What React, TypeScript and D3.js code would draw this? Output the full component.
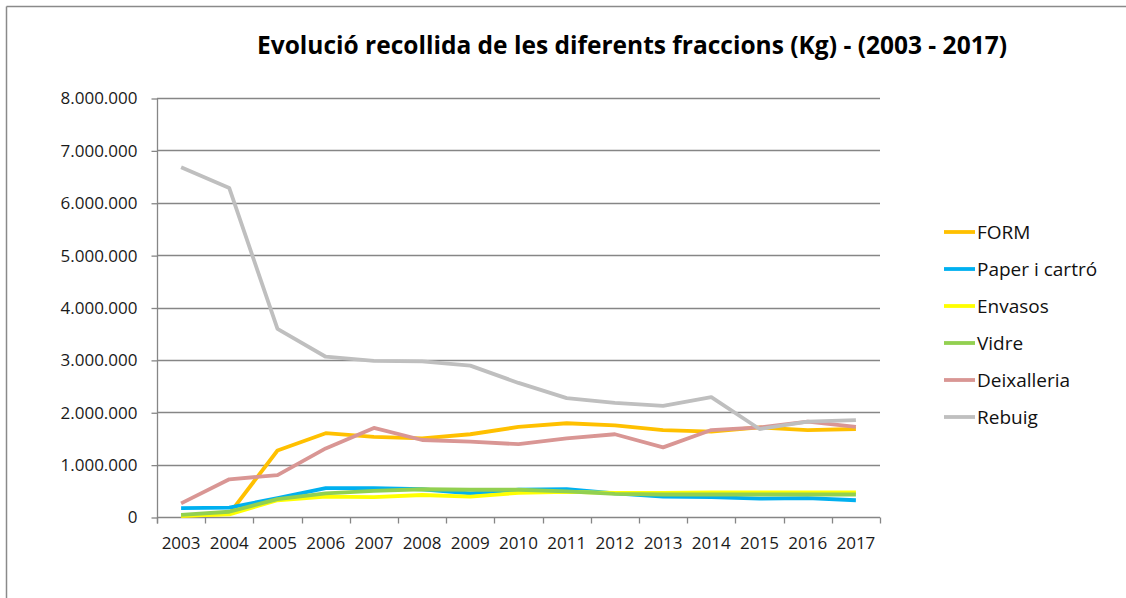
//@ts-nocheck
import React, { useEffect, useRef } from "react";
import * as d3 from "d3";

const years = ["2003", "2004", "2005", "2006", "2007", "2008", "2009", "2010", "2011", "2012", "2013", "2014", "2015", "2016", "2017"];

const form = [20000, 60000, 1270000, 1600000, 1530000, 1500000, 1580000, 1720000, 1790000, 1750000, 1660000, 1630000, 1710000, 1660000, 1680000];
const paper = [170000, 180000, 360000, 550000, 550000, 530000, 450000, 520000, 530000, 450000, 390000, 380000, 350000, 360000, 320000];
const envasos = [20000, 50000, 320000, 390000, 380000, 420000, 390000, 460000, 480000, 460000, 460000, 470000, 470000, 470000, 470000];
const vidre = [40000, 100000, 340000, 450000, 500000, 530000, 520000, 520000, 490000, 440000, 430000, 430000, 430000, 430000, 430000];
const deixalleria = [260000, 720000, 800000, 1310000, 1700000, 1470000, 1440000, 1390000, 1500000, 1580000, 1330000, 1660000, 1710000, 1820000, 1720000];
const rebuig = [6680000, 6280000, 3590000, 3060000, 2980000, 2970000, 2890000, 2560000, 2270000, 2180000, 2120000, 2290000, 1680000, 1820000, 1850000];

const seriesNames = ["FORM", "Paper i cartró", "Envasos", "Vidre", "Deixalleria", "Rebuig"];
const seriesValues = [form, paper, envasos, vidre, deixalleria, rebuig];
const colors = ["#FFC000", "#00B0F0", "#FFFF00", "#92D050", "#D99694", "#BFBFBF"];

const yTicks = [0, 1000000, 2000000, 3000000, 4000000, 5000000, 6000000, 7000000, 8000000];

const title = "Evolució recollida de les diferents fraccions (Kg) - (2003 - 2017)";

const W = 1126;
const H = 598;
const margins = { top: 98, right: 246, bottom: 81, left: 157 };
const font = "'Open Sans', sans-serif";

const App = () => {
  const svgRef = useRef<SVGSVGElement>(null);

  useEffect(() => {
    const svg = d3.select(svgRef.current);
    svg.selectAll("*").remove();

    const width = W - margins.left - margins.right;
    const height = H - margins.top - margins.bottom;

    const x = d3.scaleBand().domain(years).range([margins.left, margins.left + width]);
    const y = d3.scaleLinear().domain([0, 8000000]).range([margins.top + height, margins.top]);

    const locale = d3.formatLocale({ decimal: ",", thousands: ".", grouping: [3], currency: ["", ""] });
    const fmt = locale.format(",d");

    // outer frame (only top and left are visible)
    svg.append("line").attr("x1", 6.5).attr("x2", W).attr("y1", 6.5).attr("y2", 6.5)
      .attr("stroke", "#8a8a8a").attr("stroke-width", 1.5);
    svg.append("line").attr("x1", 6.5).attr("x2", 6.5).attr("y1", 6.5).attr("y2", H)
      .attr("stroke", "#8a8a8a").attr("stroke-width", 1.5);

    // title
    svg.append("text")
      .attr("x", 632).attr("y", 54)
      .attr("text-anchor", "middle")
      .attr("font-family", font).attr("font-weight", "bold").attr("font-size", 25)
      .attr("textLength", 750).attr("lengthAdjust", "spacingAndGlyphs")
      .attr("fill", "#000")
      .text(title);

    // gridlines
    svg.append("g").selectAll("line").data(yTicks.slice(1)).join("line")
      .attr("x1", margins.left).attr("x2", margins.left + width)
      .attr("y1", (d) => Math.round(y(d)) + 0.5).attr("y2", (d) => Math.round(y(d)) + 0.5)
      .attr("stroke", "#868686").attr("stroke-width", 1.3);

    // y axis
    const yAxis = svg.append("g")
      .attr("transform", `translate(${margins.left + 0.5},0.5)`)
      .call(d3.axisLeft(y).tickValues(yTicks).tickSize(6).tickPadding(14).tickFormat(fmt));
    yAxis.select(".domain").attr("d", `M0,${margins.top}V${margins.top + height + 6}`).attr("stroke", "#868686").attr("stroke-width", 1.3);
    yAxis.selectAll(".tick line").attr("stroke", "#868686").attr("stroke-width", 1.3);
    yAxis.selectAll(".tick text").attr("font-family", font).attr("font-size", 17).attr("fill", "#1a1a1a");

    // x axis
    const xAxis = svg.append("g").attr("transform", `translate(0,${Math.round(y(0)) + 0.5})`);
    xAxis.append("line").attr("x1", margins.left).attr("x2", margins.left + width)
      .attr("stroke", "#868686").attr("stroke-width", 1.3);
    const bounds = years.map((d) => x(d)).concat([margins.left + width]);
    xAxis.selectAll("line.tk").data(bounds).join("line").attr("class", "tk")
      .attr("x1", (d) => Math.round(d) + 0.5).attr("x2", (d) => Math.round(d) + 0.5)
      .attr("y1", 0).attr("y2", 6)
      .attr("stroke", "#868686").attr("stroke-width", 1.3);
    xAxis.selectAll("text").data(years).join("text")
      .attr("x", (d) => x(d) + x.bandwidth() / 2).attr("y", 31)
      .attr("text-anchor", "middle")
      .attr("font-family", font).attr("font-size", 17).attr("fill", "#1a1a1a")
      .text((d) => d);

    // lines
    const valueLine = d3.line()
      .x((d, i) => x(years[i]) + x.bandwidth() / 2)
      .y((d) => y(d));

    seriesValues.forEach((dataset, i) => {
      svg.append("path")
        .datum(dataset)
        .attr("fill", "none")
        .attr("stroke", colors[i])
        .attr("stroke-width", 3.8)
        .attr("stroke-linejoin", "round")
        .attr("d", valueLine);
    });

    // legend
    const legend = svg.append("g").attr("transform", "translate(944,232)");
    seriesNames.forEach((name, i) => {
      const g = legend.append("g").attr("transform", `translate(0,${i * 37})`);
      g.append("line").attr("x1", 0).attr("x2", 31).attr("y1", 0).attr("y2", 0)
        .attr("stroke", colors[i]).attr("stroke-width", 3.8);
      g.append("text").attr("x", 33).attr("y", 0).attr("dy", "0.36em")
        .attr("font-family", font).attr("font-size", 19).attr("fill", "#111")
        .text(name);
    });
  }, []);

  return (
    <svg ref={svgRef} width={W} height={H}
      style={{ position: "absolute", left: 0, top: 0, background: "#fff" }}></svg>
  );
};

export default App;
